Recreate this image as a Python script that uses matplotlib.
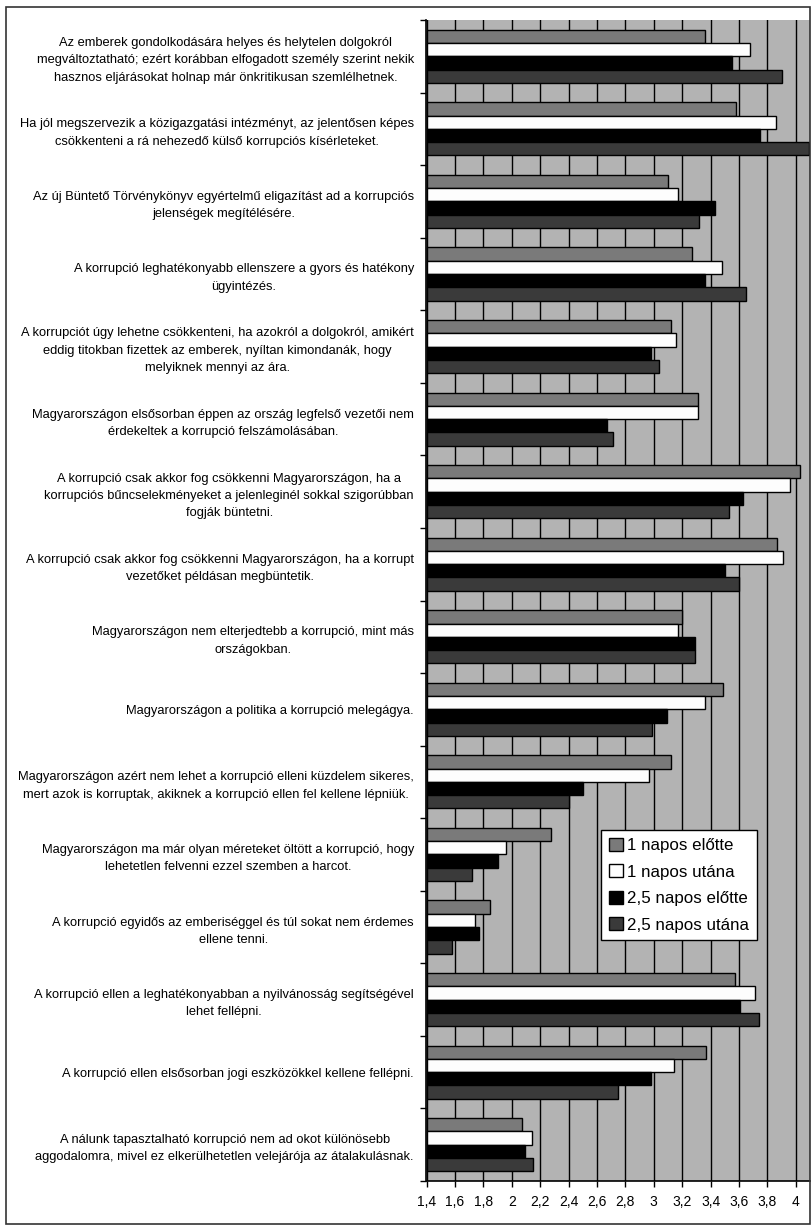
import numpy as np
import matplotlib.pyplot as plt
from matplotlib.patches import Rectangle

plt.rcParams['font.family'] = ['Liberation Sans', 'DejaVu Sans']

statements = [
    "Az emberek gondolkodására helyes és helytelen dolgokról\nmegváltoztatható; ezért korábban elfogadott személy szerint nekik\nhasznos eljárásokat holnap már önkritikusan szemlélhetnek.",
    "Ha jól megszervezik a közigazgatási intézményt, az jelentősen képes\ncsökkenteni a rá nehezedő külső korrupciós kísérleteket.",
    "Az új Büntető Törvénykönyv egyértelmű eligazítást ad a korrupciós\njelenségek megítélésére.",
    "A korrupció leghatékonyabb ellenszere a gyors és hatékony\nügyintézés.",
    "A korrupciót úgy lehetne csökkenteni, ha azokról a dolgokról, amikért\neddig titokban fizettek az emberek, nyíltan kimondanák, hogy\nmelyiknek mennyi az ára.",
    "Magyarországon elsősorban éppen az ország legfelső vezetői nem\nérdekeltek a korrupció felszámolásában.",
    "A korrupció csak akkor fog csökkenni Magyarországon, ha a\nkorrupciós bűncselekményeket a jelenleginél sokkal szigorúbban\nfogják büntetni.",
    "A korrupció csak akkor fog csökkenni Magyarországon, ha a korrupt\nvezetőket példásan megbüntetik.",
    "Magyarországon nem elterjedtebb a korrupció, mint más\nországokban.",
    "Magyarországon a politika a korrupció melegágya.",
    "Magyarországon azért nem lehet a korrupció elleni küzdelem sikeres,\nmert azok is korruptak, akiknek a korrupció ellen fel kellene lépniük.",
    "Magyarországon ma már olyan méreteket öltött a korrupció, hogy\nlehetetlen felvenni ezzel szemben a harcot.",
    "A korrupció egyidős az emberiséggel és túl sokat nem érdemes\nellene tenni.",
    "A korrupció ellen a leghatékonyabban a nyilvánosság segítségével\nlehet fellépni.",
    "A korrupció ellen elsősorban jogi eszközökkel kellene fellépni.",
    "A nálunk tapasztalható korrupció nem ad okot különösebb\naggodalomra, mivel ez elkerülhetetlen velejárója az átalakulásnak.",
]

series_names = ["1 napos előtte", "1 napos utána", "2,5 napos előtte", "2,5 napos utána"]

egy_elotte = [3.36, 3.58, 3.10, 3.27, 3.12, 3.31, 4.03, 3.87, 3.20, 3.49, 3.12, 2.28, 1.85, 3.57, 3.37, 2.07]
egy_utana = [3.68, 3.86, 3.17, 3.48, 3.16, 3.31, 3.96, 3.91, 3.17, 3.36, 2.97, 1.96, 1.74, 3.71, 3.14, 2.14]
ketto_elotte = [3.55, 3.75, 3.43, 3.36, 2.98, 2.67, 3.63, 3.50, 3.29, 3.09, 2.50, 1.90, 1.77, 3.61, 2.98, 2.09]
ketto_utana = [3.90, 4.09, 3.32, 3.65, 3.04, 2.71, 3.53, 3.60, 3.29, 2.99, 2.40, 1.72, 1.58, 3.74, 2.75, 2.15]

x_ticks = [1.4, 1.6, 1.8, 2.0, 2.2, 2.4, 2.6, 2.8, 3.0, 3.2, 3.4, 3.6, 3.8, 4.0]

colors = ['#7a7a7a', '#fdfdfd', '#000000', '#3a3a3a']

fig = plt.figure(figsize=(8.11, 12.26), dpi=100)
ax = fig.add_axes([426.5 / 811, 45 / 1226, (810 - 426.5) / 811, (1206 - 45) / 1226])
ax.set_facecolor('#b3b3b3')

base = 1.4
h = 0.183
y = np.arange(len(statements))
for k, vals in enumerate([egy_elotte, egy_utana, ketto_elotte, ketto_utana]):
    vals = np.array(vals)
    ax.barh(y + (k - 1.5) * h, vals - base, left=base, height=h, color=colors[k],
            edgecolor='black', linewidth=1, label=series_names[k], zorder=3)

ax.set_xlim(1.4, 4.1)
ax.set_ylim(len(statements) - 0.5, -0.5)
ax.set_xticks(x_ticks)
ax.set_xticklabels([('%g' % t).replace('.', ',') for t in x_ticks], fontsize=10)
ax.xaxis.grid(True, color='black', linewidth=1, zorder=1)
ax.set_axisbelow(True)
ax.tick_params(axis='x', direction='out', length=4, width=1, pad=6)

ax.set_yticks(y)
ax.set_yticklabels(statements, fontsize=9.3, linespacing=1.58, multialignment='center')
ax.set_yticks(np.arange(len(statements) + 1) - 0.5, minor=True)
ax.tick_params(axis='y', which='major', length=0, pad=9)
ax.tick_params(axis='y', which='minor', length=4, width=1, direction='out')

for s in ['top', 'right']:
    ax.spines[s].set_visible(False)
ax.spines['left'].set_linewidth(1.2)
ax.spines['bottom'].set_linewidth(1.2)

leg = ax.legend(loc='upper left', bbox_to_anchor=((601.5 - 426.5) / 383.5, (1226 - 830 - 45) / 1161),
                fontsize=12.2, frameon=True, fancybox=False, edgecolor='black', framealpha=1,
                handlelength=0.8, handleheight=0.8, handletextpad=0.25, labelspacing=0.66,
                borderpad=0.45, borderaxespad=0)
leg.get_frame().set_linewidth(1)
leg.set_zorder(5)

fig.patches.append(Rectangle((6 / 811, 2 / 1226), 804 / 811, 1217 / 1226, transform=fig.transFigure,
                             fill=False, edgecolor='#333333', linewidth=1.2))

fig.savefig('out.png', dpi=100)
